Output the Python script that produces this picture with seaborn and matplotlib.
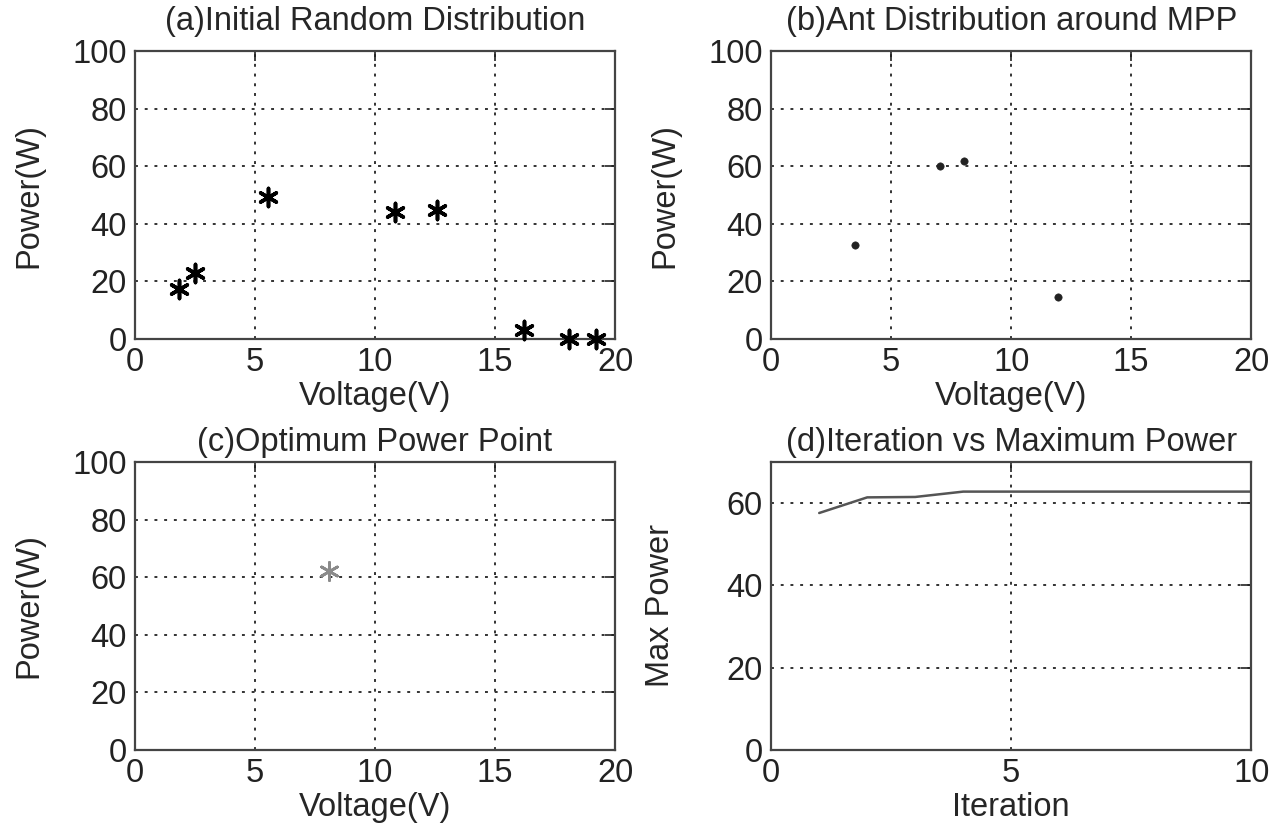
import matplotlib
matplotlib.use("Agg")
import matplotlib.pyplot as plt
import seaborn as sns

# (a) initial random ant positions
init_voltage = [1.85, 2.5, 5.55, 10.85, 12.6, 16.2, 18.1, 19.2]
init_power = [17.5, 23.0, 49.3, 44.2, 44.8, 3.2, 0.0, 0.0]

# (b) ants gathered around the MPP
mpp_voltage = [3.5, 7.05, 8.05, 11.95]
mpp_power = [32.5, 60.0, 62.0, 14.6]

# (c) optimum point
opt_voltage = [8.1]
opt_power = [62.3]

# (d) max power per iteration
iterations = [1, 2, 3, 4, 5, 6, 7, 8, 9, 10]
max_power = [57.6, 61.4, 61.5, 62.8, 62.8, 62.8, 62.8, 62.8, 62.8, 62.8]

sns.set_style("white")
plt.rcParams["font.family"] = ["Liberation Sans", "DejaVu Sans"]

FS = 23.5
fig = plt.figure(figsize=(12.8, 8.25), dpi=100)
W, H = 0.375, 0.349
ax_a = fig.add_axes([0.1055, 0.589, W, H])
ax_b = fig.add_axes([0.6025, 0.589, W, H])
ax_c = fig.add_axes([0.1055, 0.091, W, H])
ax_d = fig.add_axes([0.6025, 0.091, W, H])

star = (6, 2, 0)
sns.scatterplot(x=init_voltage, y=init_power, ax=ax_a, marker=star, s=170,
                color="black", linewidth=2.6, zorder=3, clip_on=False)
sns.scatterplot(x=mpp_voltage, y=mpp_power, ax=ax_b, marker="o", s=28,
                color="#222222", edgecolor="#222222", zorder=3)
sns.scatterplot(x=opt_voltage, y=opt_power, ax=ax_c, marker=star, s=170,
                color="#8a8a8a", linewidth=2.0, zorder=3)
sns.lineplot(x=iterations, y=max_power, ax=ax_d, color="#555555", linewidth=1.8)

titles = ["(a)Initial Random Distribution", "(b)Ant Distribution around MPP",
          "(c)Optimum Power Point", "(d)Iteration vs Maximum Power"]

for ax, title, pad in zip([ax_a, ax_b, ax_c], titles[:3], [15, 15, 8]):
    ax.set_xlim(0, 20)
    ax.set_ylim(0, 100)
    ax.set_xticks([0, 5, 10, 15, 20])
    ax.set_yticks([0, 20, 40, 60, 80, 100])
    ax.set_xlabel("Voltage(V)", fontsize=FS, labelpad=2)
    ax.set_ylabel("Power(W)", fontsize=FS, labelpad=20)
    ax.set_title(title, fontsize=FS, pad=pad)

ax_d.set_xlim(0, 10)
ax_d.set_ylim(0, 70)
ax_d.set_xticks([0, 5, 10])
ax_d.set_yticks([0, 20, 40, 60])
ax_d.set_xlabel("Iteration", fontsize=FS, labelpad=2)
ax_d.set_ylabel("Max Power", fontsize=FS, labelpad=36)
ax_d.set_title(titles[3], fontsize=FS, pad=8)

for ax in [ax_a, ax_b, ax_c, ax_d]:
    ax.grid(True, color="#333333", linestyle=(0, (1.5, 3.5)), linewidth=1.4)
    ax.set_axisbelow(True)
    ax.tick_params(direction="in", top=True, right=True, length=7, width=1.2,
                   labelsize=FS, pad=6, colors="#222222")
    for sp in ax.spines.values():
        sp.set_color("#444444")
        sp.set_linewidth(1.6)
        sp.set_visible(True)

fig.savefig("out.png", dpi=100)
plt.close(fig)
